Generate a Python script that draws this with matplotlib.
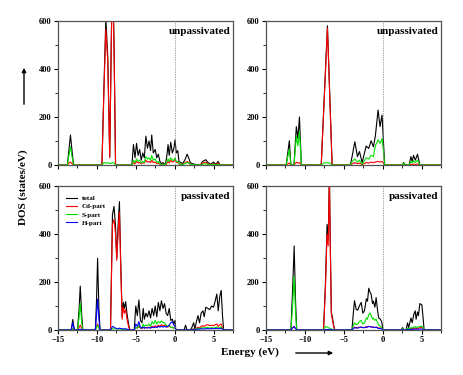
import matplotlib
matplotlib.use("Agg")
import matplotlib.pyplot as plt
from matplotlib.ticker import MultipleLocator

plt.rcParams["font.family"] = "serif"
plt.rcParams["font.serif"] = ["Liberation Serif", "DejaVu Serif"]
plt.rcParams["font.weight"] = "bold"

# ---- top-left: unpassivated ----
tl_energy = [-15, -13.8, -13.6, -13.4, -13.2, -13.0,
             -9.35, -9.1, -8.85, -8.6, -8.35, -8.15, -8.0, -7.8, -7.6,
             -5.5, -5.3, -5.1, -4.9, -4.7, -4.5, -4.3, -4.1, -3.9, -3.7, -3.5,
             -3.3, -3.1, -2.95, -2.75, -2.5, -2.3, -2.1, -1.9, -1.7, -1.5,
             -1.2, -1.0, -0.85, -0.7, -0.5, -0.3, -0.1, 0.05, 0.2, 0.4,
             0.55, 0.8, 1.0, 1.3, 1.6, 1.8, 2.0, 2.3, 2.6,
             3.3, 3.6, 4.0, 4.3, 4.6, 5.0, 5.3, 5.6, 5.8, 7.5]
tl_total = [0, 0, 60, 125, 60, 0,
            0, 320, 610, 450, 35, 520, 820, 520, 0,
            0, 85, 30, 90, 40, 65, 20, 50, 30, 120, 70,
            100, 60, 125, 50, 65, 30, 45, 15, 5, 10,
            0, 40, 85, 40, 95, 50, 70, 105, 50, 60,
            15, 10, 5, 20, 45, 30, 10, 5, 3,
            0, 15, 22, 10, 3, 12, 3, 15, 0, 0]
tl_cd = [0, 0, 8, 12, 6, 0,
         0, 300, 565, 430, 30, 500, 800, 500, 0,
         0, 10, 5, 15, 8, 10, 5, 10, 8, 20, 12,
         15, 10, 20, 10, 12, 6, 8, 3, 1, 2,
         0, 8, 15, 8, 20, 12, 15, 25, 12, 10,
         4, 3, 2, 8, 15, 10, 4, 2, 1,
         0, 8, 12, 5, 1, 6, 1, 8, 0, 0]
tl_s = [0, 0, 40, 75, 35, 0,
        0, 10, 8, 10, 6, 8, 10, 8, 0,
        0, 20, 10, 25, 15, 20, 8, 15, 10, 35, 25,
        30, 20, 40, 20, 25, 10, 15, 5, 2, 3,
        0, 15, 25, 15, 30, 20, 20, 30, 15, 15,
        5, 3, 2, 6, 10, 8, 3, 2, 1,
        0, 3, 5, 2, 1, 3, 1, 3, 0, 0]

# ---- top-right: unpassivated ----
tr_energy = [-15, -12.4, -12.2, -12.0, -11.8, -11.4, -11.1, -10.9, -10.7, -10.45,
             -7.9, -7.6, -7.1, -6.8, -6.5,
             -4.15, -3.92, -3.58, -3.24, -2.98, -2.64, -2.12, -1.79, -1.49,
             -1.19, -0.94, -0.59, -0.34, -0.08, 0.09, 0.26,
             2.5, 2.7, 2.9, 3.4, 3.63, 3.8, 3.97, 4.2, 4.48, 4.78, 7.5]
tr_total = [0, 0, 50, 101, 0, 0, 160, 110, 200, 0,
            0, 220, 580, 290, 0,
            0, 37, 97, 35, 56, 10, 79, 69, 101,
            76, 121, 229, 160, 208, 104, 0,
            0, 10, 0, 0, 35, 15, 40, 20, 45, 0, 0]
tr_cd = [0, 0, 5, 8, 0, 0, 12, 8, 10, 0,
         0, 210, 570, 280, 0,
         0, 5, 10, 5, 8, 2, 10, 8, 12,
         10, 12, 15, 12, 15, 8, 0,
         0, 1, 0, 0, 3, 2, 4, 2, 4, 0, 0]
tr_s = [0, 0, 35, 65, 0, 0, 120, 80, 140, 0,
        0, 8, 10, 8, 0,
        0, 15, 25, 12, 20, 3, 30, 25, 40,
        35, 80, 105, 90, 110, 60, 0,
        0, 8, 0, 0, 15, 8, 18, 10, 20, 0, 0]

# ---- bottom-left: passivated ----
bl_energy = [-15, -13.3, -13.1, -12.9, -12.5, -12.3, -12.14, -11.95, -11.8,
             -10.2, -10.05, -9.91, -9.75, -9.6,
             -8.25, -8.0, -7.8, -7.6, -7.45, -7.25, -7.1, -6.95, -6.75, -6.6,
             -6.45, -6.3, -6.1, -5.9, -5.75,
             -5.2, -5.0, -4.8, -4.6, -4.4, -4.2, -4.05, -3.9, -3.7, -3.5,
             -3.3, -3.1, -2.9, -2.7, -2.5, -2.3, -2.1, -1.9, -1.7, -1.5,
             -1.3, -1.1, -0.9, -0.7, -0.5, -0.3, -0.1, 0.05, 0.15,
             1.2, 1.4, 1.6, 2.0, 2.2, 2.44, 2.6, 2.8, 3.0, 3.2, 3.4, 3.63, 3.8,
             4.0, 4.27, 4.5, 4.75, 5.0, 5.2, 5.42, 5.6, 5.8, 5.98, 6.15, 6.3, 7.5]
bl_total = [0, 0, 44, 0, 0, 80, 183, 60, 0,
            0, 120, 299, 100, 0,
            0, 480, 515, 430, 300, 450, 535, 300, 55, 115,
            90, 118, 60, 20, 0,
            0, 100, 60, 125, 40, 30, 90, 45, 70, 55,
            80, 50, 90, 60, 100, 55, 115, 80, 122, 90,
            110, 70, 60, 90, 40, 45, 25, 40, 0,
            0, 20, 0, 0, 10, 30, 5, 35, 60, 30, 70, 80, 55,
            95, 90, 85, 100, 95, 120, 150, 80, 140, 165, 60, 0, 0]
bl_cd = [0, 0, 5, 0, 0, 10, 20, 8, 0,
         0, 15, 25, 10, 0,
         0, 440, 460, 400, 290, 420, 490, 280, 45, 95,
         70, 85, 40, 10, 0,
         0, 10, 8, 15, 8, 6, 12, 8, 10, 10,
         12, 8, 15, 12, 18, 12, 20, 15, 22, 18,
         20, 15, 12, 18, 10, 12, 8, 10, 0,
         0, 3, 0, 0, 2, 5, 1, 8, 12, 8, 15, 18, 15,
         20, 22, 18, 20, 18, 22, 25, 15, 22, 25, 10, 0, 0]
bl_s = [0, 0, 5, 0, 0, 50, 111, 30, 0,
        0, 10, 20, 8, 0,
        0, 5, 5, 5, 4, 5, 5, 4, 3, 3,
        3, 3, 2, 1, 0,
        0, 10, 8, 20, 10, 8, 25, 15, 20, 18,
        25, 15, 35, 25, 40, 25, 35, 30, 38, 30,
        30, 20, 15, 20, 10, 10, 8, 10, 0,
        0, 2, 0, 0, 2, 4, 1, 5, 8, 5, 8, 10, 8,
        10, 10, 8, 10, 8, 10, 12, 8, 10, 12, 5, 0, 0]
bl_h = [0, 0, 30, 0, 0, 2, 3, 2, 0,
        0, 60, 128, 50, 0,
        0, 15, 12, 8, 5, 5, 8, 6, 5, 5,
        4, 5, 3, 2, 0,
        0, 25, 15, 35, 10, 8, 12, 8, 10, 8,
        10, 8, 12, 10, 12, 10, 15, 12, 15, 12,
        15, 12, 15, 20, 30, 35, 20, 15, 0,
        0, 1, 0, 0, 1, 2, 0, 3, 4, 3, 5, 5, 4,
        5, 6, 5, 6, 5, 6, 7, 5, 6, 7, 3, 0, 0]

# ---- bottom-right: passivated ----
br_energy = [-15, -11.8, -11.6, -11.38, -11.2, -11.05,
             -7.6, -7.35, -7.15, -7.0, -6.85, -6.75, -6.6, -6.45, -6.3, -6.15,
             -3.95, -3.8, -3.62, -3.4, -3.2, -3.0, -2.76, -2.55, -2.34, -2.1,
             -1.95, -1.79, -1.6, -1.49, -1.3, -1.19, -1.0, -0.84, -0.65, -0.51,
             -0.3, -0.13, 0.05,
             2.4, 2.56, 2.7, 3.0, 3.2, 3.35, 3.63, 3.8, 4.0, 4.18, 4.3, 4.48,
             4.6, 4.78, 5.04, 5.2, 5.33, 7.5]
br_total = [0, 0, 150, 350, 120, 0,
            0, 200, 440, 380, 650, 400, 75, 50, 20, 0,
            0, 60, 122, 85, 83, 100, 115, 70, 80, 130,
            120, 174, 155, 150, 110, 120, 95, 135, 80, 50,
            45, 35, 0,
            0, 10, 0, 0, 30, 10, 50, 30, 65, 80, 45, 75,
            60, 110, 105, 50, 0, 0]
br_cd = [0, 0, 8, 15, 6, 0,
         0, 180, 400, 350, 640, 380, 65, 40, 15, 0,
         0, 8, 12, 10, 10, 12, 12, 10, 10, 14,
         12, 15, 14, 13, 12, 12, 10, 12, 10, 8,
         8, 6, 0,
         0, 1, 0, 0, 5, 2, 6, 5, 7, 8, 6, 8,
         7, 10, 10, 6, 0, 0]
br_s = [0, 0, 90, 222, 70, 0,
        0, 15, 12, 10, 8, 6, 4, 3, 2, 0,
        0, 15, 30, 22, 25, 35, 40, 25, 30, 50,
        45, 65, 70, 60, 45, 50, 40, 45, 30, 20,
        15, 10, 0,
        0, 5, 0, 0, 8, 4, 10, 8, 12, 14, 10, 13,
        12, 15, 16, 10, 0, 0]
br_h = [0, 0, 8, 15, 5, 0,
        0, 2, 2, 2, 2, 2, 1, 1, 0, 0,
        0, 5, 10, 8, 8, 10, 12, 10, 10, 12,
        12, 15, 14, 12, 12, 12, 10, 12, 8, 6,
        6, 5, 0,
        0, 1, 0, 0, 2, 1, 3, 2, 3, 4, 3, 4,
        3, 4, 4, 3, 0, 0]

x_ticks = [-15, -10, -5, 0, 5]
y_ticks = [0, 200, 400, 600]

COLORS = {"total": "black", "Cd-part": "#ff0000", "S-part": "#00e000", "H-part": "#0000ff"}


def draw_panel(ax, energy, series, label, show_xlabels):
    for name, values in series.items():
        ax.plot(energy, values, color=COLORS[name], lw=0.8, label=name)
    ax.axvline(0, color="grey", lw=0.5, ls=(0, (2, 1.5)))
    ax.set_xlim(-15, 7.5)
    ax.set_ylim(0, 600)
    ax.set_xticks(x_ticks)
    ax.set_yticks(y_ticks)
    ax.xaxis.set_minor_locator(MultipleLocator(2.5))
    ax.yaxis.set_minor_locator(MultipleLocator(100))
    ax.tick_params(which="major", direction="out", length=3, width=0.8, labelsize=6, pad=1.5)
    ax.tick_params(which="minor", direction="out", length=2, width=0.6)
    if not show_xlabels:
        ax.set_xticklabels([])
    for sp in ax.spines.values():
        sp.set_color("#555555")
        sp.set_linewidth(0.9)
    ax.text(0.985, 0.925, label, transform=ax.transAxes, ha="right", va="center",
            fontsize=8, fontweight="bold")


fig = plt.figure(figsize=(4.63, 3.75), dpi=100)
w, h = 175 / 463, 144 / 375
ax_tl = fig.add_axes([58 / 463, 1 - 165 / 375, w, h])
ax_tr = fig.add_axes([266 / 463, 1 - 165 / 375, w, h])
ax_bl = fig.add_axes([58 / 463, 1 - 330 / 375, w, h])
ax_br = fig.add_axes([266 / 463, 1 - 330 / 375, w, h])

draw_panel(ax_tl, tl_energy, {"total": tl_total, "Cd-part": tl_cd, "S-part": tl_s},
           "unpassivated", False)
draw_panel(ax_tr, tr_energy, {"total": tr_total, "Cd-part": tr_cd, "S-part": tr_s},
           "unpassivated", False)
draw_panel(ax_bl, bl_energy, {"total": bl_total, "Cd-part": bl_cd, "S-part": bl_s, "H-part": bl_h},
           "passivated", True)
draw_panel(ax_br, br_energy, {"total": br_total, "Cd-part": br_cd, "S-part": br_s, "H-part": br_h},
           "passivated", True)

ax_bl.legend(loc="upper left", bbox_to_anchor=(0.02, 0.97), frameon=False, fontsize=5,
             handlelength=1.6, handletextpad=0.6, labelspacing=0.35, borderpad=0.2)

fig.text(0.05, 0.5, "DOS (states/eV)", rotation=90, ha="center", va="center",
         fontsize=8, fontweight="bold")
fig.text(0.54, 0.061, "Energy (eV)", ha="center", va="center", fontsize=8, fontweight="bold")
fig.patches.append(matplotlib.patches.FancyArrowPatch(
    (24 / 463, 1 - 107 / 375), (24 / 463, 1 - 65 / 375), transform=fig.transFigure,
    arrowstyle="-|>", mutation_scale=6, lw=1, color="black"))
fig.patches.append(matplotlib.patches.FancyArrowPatch(
    (293 / 463, 1 - 353 / 375), (336 / 463, 1 - 353 / 375), transform=fig.transFigure,
    arrowstyle="-|>", mutation_scale=6, lw=1, color="black"))

fig.savefig("out.png", dpi=100)
